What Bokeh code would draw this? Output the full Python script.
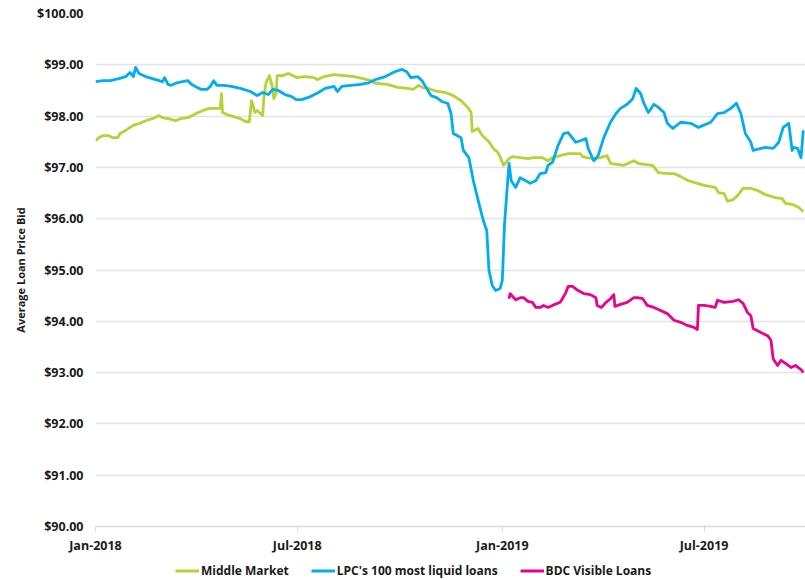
import pandas as pd
from bokeh.plotting import figure
from bokeh.layouts import column
from bokeh.models import (NumeralTickFormatter, FixedTicker, Legend, LegendItem,
                          Range1d, DatetimeTickFormatter)
from bokeh.embed import file_html
from bokeh.resources import INLINE

# ---------------- data ----------------
mm_dates = ["2018-01-01", "2018-01-04", "2018-01-08", "2018-01-13", "2018-01-16", "2018-01-21",
            "2018-01-23", "2018-01-28", "2018-02-01", "2018-02-04", "2018-02-10", "2018-02-15",
            "2018-02-21", "2018-02-27", "2018-03-02", "2018-03-07", "2018-03-14", "2018-03-18",
            "2018-03-25", "2018-03-29", "2018-04-03", "2018-04-10", "2018-04-14", "2018-04-21",
            "2018-04-23", "2018-04-24", "2018-04-25", "2018-04-29", "2018-05-05", "2018-05-11",
            "2018-05-16", "2018-05-19", "2018-05-21", "2018-05-24", "2018-05-26", "2018-05-31",
            "2018-06-01", "2018-06-03", "2018-06-06", "2018-06-09", "2018-06-10", "2018-06-12",
            "2018-06-13", "2018-06-18", "2018-06-23", "2018-07-01", "2018-07-08", "2018-07-16",
            "2018-07-19", "2018-07-25", "2018-08-03", "2018-08-12", "2018-08-21", "2018-08-29",
            "2018-09-05", "2018-09-09", "2018-09-20", "2018-09-29", "2018-10-08", "2018-10-13",
            "2018-10-18", "2018-10-21", "2018-10-26", "2018-11-04", "2018-11-11", "2018-11-18",
            "2018-11-25", "2018-12-01", "2018-12-04", "2018-12-05", "2018-12-10", "2018-12-14",
            "2018-12-20", "2018-12-24", "2018-12-28", "2018-12-30", "2019-01-02", "2019-01-07",
            "2019-01-10", "2019-01-17", "2019-01-24", "2019-01-29", "2019-02-06", "2019-02-11",
            "2019-02-15", "2019-02-22", "2019-03-01", "2019-03-08", "2019-03-12", "2019-03-14",
            "2019-03-18", "2019-03-24", "2019-03-30", "2019-04-05", "2019-04-08", "2019-04-14",
            "2019-04-20", "2019-04-26", "2019-04-29", "2019-05-03", "2019-05-08", "2019-05-16",
            "2019-05-21", "2019-05-30", "2019-06-04", "2019-06-10", "2019-06-17", "2019-06-25",
            "2019-07-01", "2019-07-11", "2019-07-14", "2019-07-19", "2019-07-22", "2019-07-27",
            "2019-07-31", "2019-08-05", "2019-08-12", "2019-08-18", "2019-08-23", "2019-08-28",
            "2019-09-03", "2019-09-09", "2019-09-12", "2019-09-18", "2019-09-24", "2019-09-28"]
mm_values = [97.52, 97.58, 97.62, 97.62, 97.58, 97.58,
             97.66, 97.72, 97.78, 97.82, 97.86, 97.91,
             97.95, 98.01, 97.97, 97.95, 97.91, 97.95,
             97.97, 98.01, 98.07, 98.13, 98.15, 98.15,
             98.15, 98.44, 98.07, 98.03, 97.99, 97.95,
             97.89, 97.89, 98.30, 98.07, 98.11, 98.01,
             98.34, 98.65, 98.79, 98.54, 98.34, 98.44,
             98.79, 98.79, 98.83, 98.75, 98.77, 98.75,
             98.71, 98.77, 98.81, 98.79, 98.77, 98.73,
             98.69, 98.64, 98.62, 98.56, 98.54, 98.52,
             98.60, 98.56, 98.54, 98.48, 98.46, 98.40,
             98.30, 98.17, 98.07, 97.70, 97.76, 97.62,
             97.50, 97.37, 97.29, 97.21, 97.04, 97.17,
             97.21, 97.19, 97.17, 97.19, 97.19, 97.13,
             97.19, 97.23, 97.27, 97.27, 97.27, 97.21,
             97.19, 97.17, 97.19, 97.23, 97.08, 97.06,
             97.04, 97.10, 97.13, 97.08, 97.06, 97.04,
             96.90, 96.88, 96.88, 96.82, 96.74, 96.69,
             96.65, 96.61, 96.51, 96.49, 96.34, 96.37,
             96.45, 96.59, 96.59, 96.55, 96.49, 96.45,
             96.41, 96.39, 96.30, 96.28, 96.22, 96.14]

lpc_dates = ["2018-01-01", "2018-01-08", "2018-01-14", "2018-01-22", "2018-01-28", "2018-02-01",
             "2018-02-04", "2018-02-06", "2018-02-09", "2018-02-15", "2018-02-21", "2018-02-27",
             "2018-03-02", "2018-03-04", "2018-03-07", "2018-03-10", "2018-03-15", "2018-03-20",
             "2018-03-25", "2018-03-28", "2018-04-02", "2018-04-06", "2018-04-11", "2018-04-14",
             "2018-04-17", "2018-04-20", "2018-04-26", "2018-05-03", "2018-05-11", "2018-05-20",
             "2018-05-26", "2018-05-31", "2018-06-05", "2018-06-09", "2018-06-14", "2018-06-20",
             "2018-06-26", "2018-06-30", "2018-07-05", "2018-07-13", "2018-07-20", "2018-07-26",
             "2018-08-03", "2018-08-06", "2018-08-10", "2018-08-18", "2018-08-27", "2018-09-03",
             "2018-09-09", "2018-09-18", "2018-09-27", "2018-10-03", "2018-10-07", "2018-10-11",
             "2018-10-17", "2018-10-21", "2018-10-24", "2018-10-29", "2018-11-03", "2018-11-08",
             "2018-11-13", "2018-11-16", "2018-11-18", "2018-11-25", "2018-11-27", "2018-12-02",
             "2018-12-06", "2018-12-11", "2018-12-15", "2018-12-18", "2018-12-20", "2018-12-23",
             "2018-12-26", "2018-12-30", "2019-01-01", "2019-01-03", "2019-01-07", "2019-01-09",
             "2019-01-13", "2019-01-17", "2019-01-22", "2019-01-26", "2019-01-31", "2019-02-04",
             "2019-02-09", "2019-02-11", "2019-02-15", "2019-02-20", "2019-02-25", "2019-03-01",
             "2019-03-08", "2019-03-12", "2019-03-17", "2019-03-19", "2019-03-24", "2019-03-28",
             "2019-04-02", "2019-04-08", "2019-04-13", "2019-04-17", "2019-04-23", "2019-04-28",
             "2019-05-01", "2019-05-05", "2019-05-08", "2019-05-12", "2019-05-17", "2019-05-21",
             "2019-05-26", "2019-05-29", "2019-06-03", "2019-06-10", "2019-06-19", "2019-06-26",
             "2019-07-07", "2019-07-13", "2019-07-19", "2019-07-25", "2019-07-30", "2019-08-03",
             "2019-08-07", "2019-08-12", "2019-08-14", "2019-08-21", "2019-08-25", "2019-09-01",
             "2019-09-06", "2019-09-10", "2019-09-15", "2019-09-18", "2019-09-19", "2019-09-23",
             "2019-09-26", "2019-09-28"]
lpc_values = [98.67, 98.69, 98.69, 98.73, 98.77, 98.85,
              98.77, 98.95, 98.83, 98.77, 98.73, 98.69,
              98.67, 98.75, 98.62, 98.60, 98.65, 98.67,
              98.69, 98.62, 98.56, 98.52, 98.52, 98.58,
              98.69, 98.60, 98.60, 98.58, 98.54, 98.48,
              98.40, 98.46, 98.42, 98.52, 98.50, 98.42,
              98.38, 98.32, 98.32, 98.38, 98.46, 98.54,
              98.58, 98.48, 98.58, 98.60, 98.62, 98.65,
              98.71, 98.77, 98.87, 98.91, 98.87, 98.75,
              98.77, 98.69, 98.58, 98.40, 98.36, 98.28,
              98.25, 98.05, 97.66, 97.58, 97.33, 97.19,
              96.74, 96.30, 95.96, 95.77, 94.99, 94.70,
              94.60, 94.64, 94.80, 95.91, 97.08, 96.74,
              96.61, 96.80, 96.74, 96.69, 96.74, 96.88,
              96.90, 97.04, 97.10, 97.43, 97.66, 97.68,
              97.49, 97.52, 97.56, 97.37, 97.13, 97.23,
              97.58, 97.88, 98.05, 98.15, 98.23, 98.34,
              98.54, 98.44, 98.25, 98.07, 98.23, 98.17,
              98.07, 97.86, 97.76, 97.88, 97.86, 97.78,
              97.88, 98.05, 98.07, 98.15, 98.25, 98.05,
              97.66, 97.49, 97.33, 97.37, 97.39, 97.37,
              97.49, 97.78, 97.86, 97.33, 97.39, 97.37,
              97.19, 97.72]

bdc_dates = ["2019-01-07", "2019-01-08", "2019-01-13", "2019-01-17", "2019-01-20", "2019-01-24",
             "2019-01-28", "2019-01-31", "2019-02-04", "2019-02-07", "2019-02-11", "2019-02-15",
             "2019-02-22", "2019-02-27", "2019-03-01", "2019-03-05", "2019-03-10", "2019-03-15",
             "2019-03-21", "2019-03-26", "2019-03-27", "2019-03-31", "2019-04-04", "2019-04-08",
             "2019-04-11", "2019-04-12", "2019-04-17", "2019-04-23", "2019-04-29", "2019-05-02",
             "2019-05-07", "2019-05-11", "2019-05-17", "2019-05-23", "2019-05-29", "2019-06-04",
             "2019-06-10", "2019-06-16", "2019-06-22", "2019-06-25", "2019-06-26", "2019-07-01",
             "2019-07-07", "2019-07-11", "2019-07-13", "2019-07-19", "2019-07-27", "2019-08-01",
             "2019-08-05", "2019-08-09", "2019-08-12", "2019-08-14", "2019-08-21", "2019-08-27",
             "2019-08-30", "2019-09-01", "2019-09-05", "2019-09-08", "2019-09-12", "2019-09-17",
             "2019-09-21", "2019-09-26", "2019-09-28"]
bdc_values = [94.44, 94.54, 94.42, 94.46, 94.46, 94.39,
              94.37, 94.27, 94.27, 94.31, 94.27, 94.31,
              94.37, 94.56, 94.68, 94.68, 94.60, 94.54,
              94.52, 94.46, 94.31, 94.27, 94.37, 94.44,
              94.52, 94.29, 94.33, 94.37, 94.46, 94.46,
              94.44, 94.31, 94.27, 94.21, 94.15, 94.02,
              93.98, 93.92, 93.88, 93.84, 94.31, 94.31,
              94.29, 94.27, 94.41, 94.37, 94.39, 94.42,
              94.35, 94.17, 94.11, 93.86, 93.78, 93.72,
              93.63, 93.27, 93.14, 93.24, 93.18, 93.10,
              93.14, 93.06, 93.00]

series_names = ["Middle Market", "LPC's 100 most liquid loans", "BDC Visible Loans"]
series_colors = ["#b5d334", "#00aeef", "#ec008c"]

x_tick_dates = ["2018-01-01", "2018-07-01", "2019-01-01", "2019-07-01"]
y_ticks = [90, 91, 92, 93, 94, 95, 96, 97, 98, 99, 100]
x_start, x_end = "2018-01-01", "2019-09-30"
y_start, y_end = 90, 100

FONT = "Open Sans"
TXT = "#1a1a1a"

series = [(mm_dates, mm_values), (lpc_dates, lpc_values), (bdc_dates, bdc_values)]

p = figure(width=805, height=560, x_axis_type="datetime",
           x_range=Range1d(pd.Timestamp(x_start), pd.Timestamp(x_end)),
           y_range=Range1d(y_start, y_end),
           output_backend="svg", toolbar_location=None,
           min_border_left=95, min_border_right=0, min_border_top=13,
           min_border_bottom=34, sizing_mode="fixed")
p.outline_line_color = None
p.background_fill_color = "white"
p.border_fill_color = "white"

for (dates, vals), color in zip(series, series_colors):
    p.line(pd.to_datetime(dates), vals, line_color=color, line_width=2.8,
           line_join="round")

# axes
p.yaxis.ticker = FixedTicker(ticks=y_ticks)
p.yaxis.formatter = NumeralTickFormatter(format="$0.00")
p.yaxis.axis_line_color = None
p.yaxis.major_tick_line_color = None
p.yaxis.minor_tick_line_color = None
p.yaxis.major_tick_in = 0
p.yaxis.major_tick_out = 0
p.yaxis.major_label_text_font = FONT
p.yaxis.major_label_text_font_style = "bold"
p.yaxis.major_label_text_font_size = "12.5px"
p.yaxis.major_label_text_color = TXT
p.yaxis.major_label_standoff = 12
p.yaxis.axis_label = "Average Loan Price Bid"
p.yaxis.axis_label_text_font = FONT
p.yaxis.axis_label_text_font_style = "bold"
p.yaxis.axis_label_text_font_size = "11px"
p.yaxis.axis_label_text_color = TXT
p.yaxis.axis_label_standoff = 6

p.xaxis.ticker = FixedTicker(ticks=[pd.Timestamp(d).value / 1e6 for d in x_tick_dates])
p.xaxis.formatter = DatetimeTickFormatter(months="%b-%Y", days="%b-%Y", years="%b-%Y")
p.xaxis.axis_line_color = "#d9d9d9"
p.xaxis.axis_line_width = 1.5
p.xaxis.major_tick_line_color = "#d9d9d9"
p.xaxis.major_tick_in = 0
p.xaxis.major_tick_out = 5
p.xaxis.minor_tick_line_color = None
p.xaxis.major_label_text_font = FONT
p.xaxis.major_label_text_font_style = "bold"
p.xaxis.major_label_text_font_size = "12.5px"
p.xaxis.major_label_text_color = TXT
p.xaxis.major_label_standoff = 5

p.xgrid.grid_line_color = None
p.ygrid.grid_line_color = "#e3e3e3"
p.ygrid.grid_line_width = 1.6

# ---- legend strip below the chart (its lines fall outside its ranges) ----
lg = figure(width=805, height=20, x_range=Range1d(0, 1), y_range=Range1d(0, 1),
            output_backend="svg", toolbar_location=None,
            min_border_left=20, min_border_right=0, min_border_top=0,
            min_border_bottom=0, sizing_mode="fixed")
lg.axis.visible = False
lg.grid.visible = False
lg.outline_line_color = None
lg_renderers = [lg.line(pd.to_datetime(d), v, line_color=c, line_width=3)
                for (d, v), c in zip(series, series_colors)]
legend = Legend(items=[LegendItem(label=n, renderers=[r]) for n, r in zip(series_names, lg_renderers)],
                orientation="horizontal", location="left",
                border_line_color=None, background_fill_alpha=0,
                label_text_font=FONT, label_text_font_style="bold",
                label_text_font_size="12px", label_text_color=TXT,
                glyph_width=24, glyph_height=14, label_height=14,
                label_standoff=2, spacing=22, padding=0, margin=80)
lg.add_layout(legend)

layout = column(p, lg, spacing=0)
open("out.html", "w").write(file_html(layout, INLINE))
